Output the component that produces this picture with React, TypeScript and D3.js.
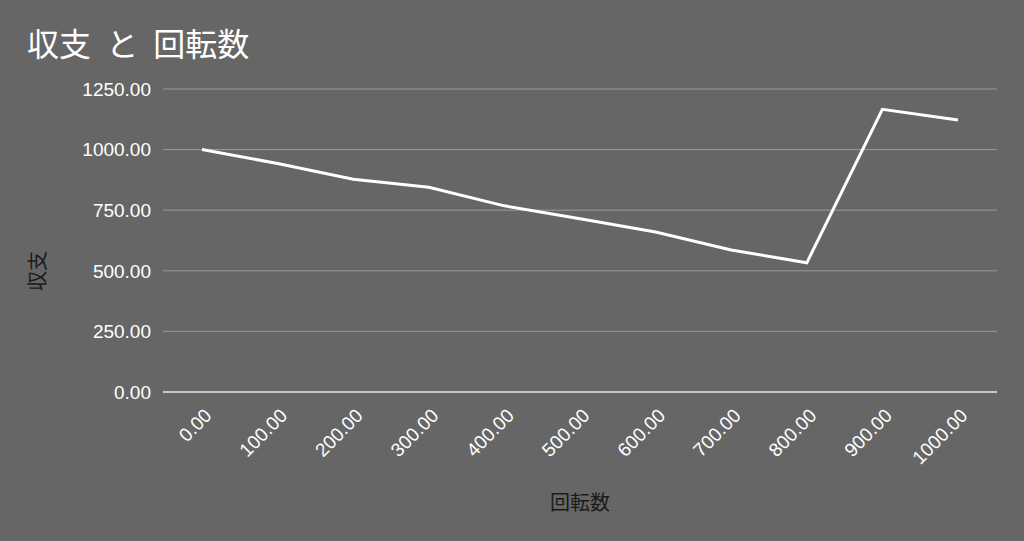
import React from "react";
import * as d3 from "d3";

const spins = [0, 100, 200, 300, 400, 500, 600, 700, 800, 900, 1000];
const balance = [1000, 943, 878, 845, 768, 715, 660, 586, 533, 1166, 1122];
const yTicks = [0, 250, 500, 750, 1000, 1250];

const W = 1024;
const H = 541;
const plotLeft = 163;
const plotRight = 997;

export default function App() {
  const x = d3.scaleLinear().domain([0, 1000]).range([202, 958]);
  const y = d3.scaleLinear().domain([0, 1250]).range([392, 89]);
  const line = d3
    .line<number>()
    .x((_, i) => x(spins[i]))
    .y((d) => y(d));
  const fmt = d3.format(".2f");
  const numFont = "'Liberation Sans', Arial, sans-serif";
  const cjkFont = "'Noto Sans CJK JP', 'Noto Sans', sans-serif";

  return (
    <svg
      width={W}
      height={H}
      style={{ position: "absolute", left: 0, top: 0, display: "block" }}
    >
      <rect x={0} y={0} width={W} height={H} fill="#666666" />
      <text
        x={27}
        y={56}
        fill="#ffffff"
        fontSize={32}
        fontFamily={cjkFont}
        style={{ wordSpacing: "8px" }}
      >
        収支 と 回転数
      </text>
      {yTicks.map((t) => (
        <g key={t}>
          {t !== 0 && (
            <line
              x1={plotLeft}
              x2={plotRight}
              y1={y(t)}
              y2={y(t)}
              stroke="#9a9a9a"
              strokeWidth={1}
            />
          )}
          <text
            x={151}
            y={y(t)}
            dy="0.36em"
            textAnchor="end"
            fill="#ffffff"
            fontSize={19}
            fontFamily={numFont}
          >
            {fmt(t)}
          </text>
        </g>
      ))}
      <line
        x1={plotLeft}
        x2={plotRight}
        y1={y(0)}
        y2={y(0)}
        stroke="#e8e8e8"
        strokeWidth={1.5}
      />
      {spins.map((s) => (
        <text
          key={s}
          transform={`translate(${x(s) + 6},${412}) rotate(-45)`}
          textAnchor="end"
          dy="0.36em"
          fill="#ffffff"
          fontSize={19}
          fontFamily={numFont}
        >
          {fmt(s)}
        </text>
      ))}
      <path
        d={line(balance) || ""}
        fill="none"
        stroke="#ffffff"
        strokeWidth={3}
        strokeLinejoin="miter"
      />
      <text
        x={580}
        y={510}
        textAnchor="middle"
        fill="#1a1a1a"
        fontSize={20}
        fontFamily={cjkFont}
      >
        回転数
      </text>
      <text
        transform={`translate(${45},${271}) rotate(-90)`}
        textAnchor="middle"
        fill="#1a1a1a"
        fontSize={20}
        fontFamily={cjkFont}
      >
        収支
      </text>
    </svg>
  );
}
